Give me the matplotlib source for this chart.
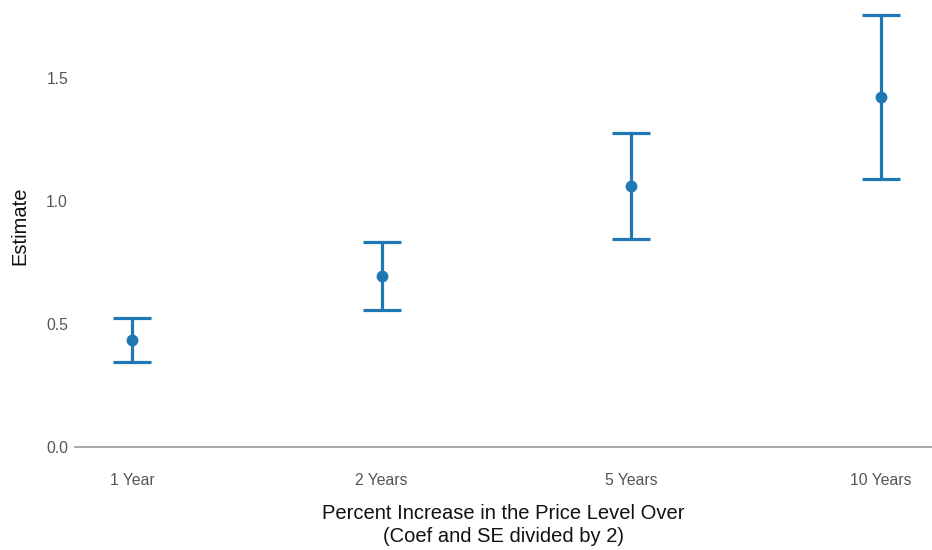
import matplotlib
matplotlib.use("Agg")
import matplotlib.pyplot as plt

categories = ["1 Year", "2 Years", "5 Years", "10 Years"]
estimate = [0.435, 0.695, 1.061, 1.423]
lower = [0.346, 0.557, 0.846, 1.089]
upper = [0.524, 0.835, 1.278, 1.756]

plt.rcParams['font.family'] = ['Liberation Sans', 'DejaVu Sans']

W, H = 932, 550
fig = plt.figure(figsize=(W / 100, H / 100), dpi=100)
ax = fig.add_axes([75 / W, (H - 447) / H, (932 - 75) / W, (447 - 5) / H])

color = "#1f77b4"
x = list(range(len(categories)))
yerr = [[e - l for e, l in zip(estimate, lower)], [u - e for e, u in zip(estimate, upper)]]
ax.errorbar(x, estimate, yerr=yerr, fmt='o', color=color, ecolor=color,
            elinewidth=2.3, capsize=13.7, capthick=2.3, markersize=7.5, clip_on=False)

ax.set_xlim(-0.229, 3.205)
ax.set_ylim(0, 442 / 246)
ax.set_yticks([0.0, 0.5, 1.0, 1.5])
ax.set_yticklabels(["0.0", "0.5", "1.0", "1.5"])
ax.set_xticks(x)
ax.set_xticklabels(categories)

for s in ["top", "right", "left"]:
    ax.spines[s].set_visible(False)
ax.spines["bottom"].set_color("#999999")
ax.spines["bottom"].set_linewidth(1.2)
ax.tick_params(axis='both', length=0, labelsize=11.3, labelcolor="#555555")
ax.tick_params(axis='x', pad=19)
ax.tick_params(axis='y', pad=5)

ax.set_xlabel("Percent Increase in the Price Level Over\n(Coef and SE divided by 2)",
              fontsize=14.5, color="#111111", labelpad=11, linespacing=1.3)
ax.set_ylabel("Estimate", fontsize=14.5, color="#111111", labelpad=12)

fig.savefig("out.png", dpi=100)
